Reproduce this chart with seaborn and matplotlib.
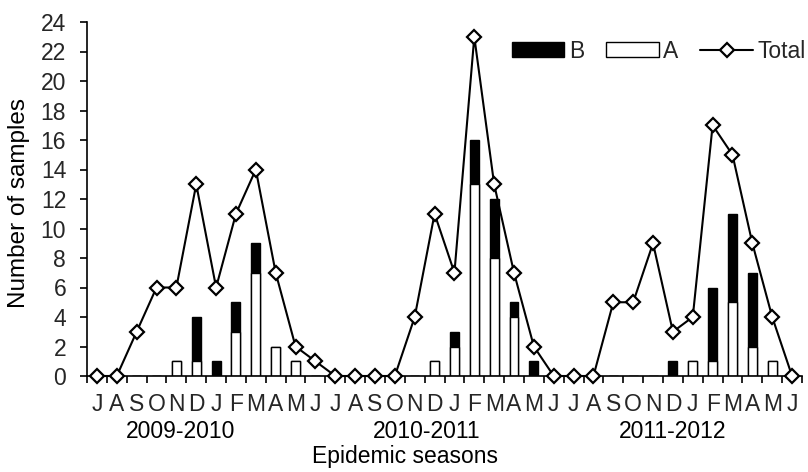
import matplotlib
matplotlib.use("Agg")
import matplotlib.pyplot as plt
from matplotlib.patches import Patch
from matplotlib.lines import Line2D
from matplotlib.ticker import FixedLocator, NullFormatter
from matplotlib.transforms import blended_transform_factory
import numpy as np
import pandas as pd
import seaborn as sns


months = ["J", "A", "S", "O", "N", "D", "J", "F", "M", "A", "M", "J"] * 3
seasons = ["2009-2010", "2010-2011", "2011-2012"]

# monthly counts, July 2009 .. June 2012
total = [0, 0, 3, 6, 6, 13, 6, 11, 14, 7, 2, 1,
         0, 0, 0, 0, 4, 11, 7, 23, 13, 7, 2, 0,
         0, 0, 5, 5, 9, 3, 4, 17, 15, 9, 4, 0]
type_a = [0, 0, 0, 0, 1, 1, 0, 3, 7, 2, 1, 0,
          0, 0, 0, 0, 0, 1, 2, 13, 8, 4, 0, 0,
          0, 0, 0, 0, 0, 0, 1, 1, 5, 2, 1, 0]
type_b = [0, 0, 0, 0, 0, 3, 1, 2, 2, 0, 0, 0,
          0, 0, 0, 0, 0, 0, 1, 3, 4, 1, 1, 0,
          0, 0, 0, 0, 0, 1, 0, 5, 6, 5, 0, 0]

df = pd.DataFrame({
    "idx": np.arange(len(total)),
    "total": total,
    "A": type_a,
    "AB": np.array(type_a) + np.array(type_b),
})

sns.set_theme(style="white")
plt.rcParams["font.family"] = ["Liberation Sans", "DejaVu Sans"]
fs = 16.5

fig = plt.figure(figsize=(8.08, 4.72), dpi=100)
ax = fig.add_axes([87 / 808, 1 - 376 / 472, 715 / 808, 354 / 472])

# stacked bars: draw A+B in black, then A in white on top
sns.barplot(data=df, x="idx", y="AB", color="black", edgecolor="black",
            linewidth=1.0, width=0.45, native_scale=True, saturation=1, ax=ax)
sns.barplot(data=df, x="idx", y="A", color="white", edgecolor="black",
            linewidth=1.0, width=0.45, native_scale=True, saturation=1, ax=ax)
sns.lineplot(data=df, x="idx", y="total", color="black", linewidth=1.5,
             marker="D", markersize=7.5, markerfacecolor="white",
             markeredgecolor="black", markeredgewidth=1.6, clip_on=False,
             zorder=5, ax=ax)

ax.set_xlim(-0.5, 35.5)
ax.set_ylim(0, 24)
ax.set_yticks(range(0, 25, 2))
ax.set_xticks(np.arange(36))
ax.set_xticklabels(months)
ax.xaxis.set_minor_locator(FixedLocator(np.arange(-0.5, 36, 1)))
ax.xaxis.set_minor_formatter(NullFormatter())
ax.tick_params(axis="x", which="major", length=0, labelsize=fs, pad=12)
ax.tick_params(axis="x", which="minor", length=5, width=1.2, color="black",
               direction="out", bottom=True)
ax.tick_params(axis="y", length=5, width=1.2, color="black", direction="out",
               left=True, labelsize=fs, pad=10)

for s in ["top", "right"]:
    ax.spines[s].set_visible(False)
for s in ["left", "bottom"]:
    ax.spines[s].set_color("black")
    ax.spines[s].set_linewidth(1.2)

ax.set_xlabel("")
ax.set_ylabel("")
fig.text(19 / 808, 1 - 203 / 472, "Number of samples", rotation=90,
         ha="center", va="center", fontsize=17.5, color="black")

season_x = [4.2, 16.6, 29.0]
trans = blended_transform_factory(ax.transData, fig.transFigure)
for xpos, name in zip(season_x, seasons):
    ax.text(xpos, 1 - 431 / 472, name, transform=trans,
            ha="center", va="center", fontsize=fs, color="black")
fig.text(405 / 808, 1 - 456 / 472, "Epidemic seasons",
         ha="center", va="center", fontsize=fs, color="black")

handles = [
    Patch(facecolor="black", edgecolor="black", linewidth=1.0),
    Patch(facecolor="white", edgecolor="black", linewidth=1.0),
    Line2D([], [], color="black", linewidth=1.5, marker="D", markersize=7.5,
           markerfacecolor="white", markeredgecolor="black",
           markeredgewidth=1.6),
]
fig.legend(handles, ["B", "A", "Total"], ncol=3, frameon=False,
           loc="center right", bbox_to_anchor=(1.0, 1 - 51 / 472),
           fontsize=fs, handlelength=2.3, handleheight=0.65,
           handletextpad=0.2, columnspacing=0.95, borderaxespad=0.0,
           borderpad=0.1)

fig.savefig("out.png", dpi=100)
